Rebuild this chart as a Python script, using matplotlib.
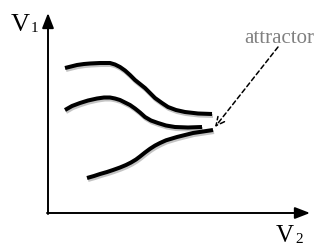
import matplotlib
matplotlib.use("Agg")
import matplotlib.pyplot as plt

# Trajectory data (pixel-like coordinate space, y grows downward)
curve1_x = [65, 71, 77, 84, 90, 100, 110, 115, 120, 125, 130, 135, 140, 145,
            150, 155, 162, 168, 176, 185, 198, 212]
curve1_y = [68, 66.5, 65, 64, 63.5, 63, 63, 64.5, 67, 70.5, 75, 80, 84, 88,
            93, 98, 103, 107, 110, 112, 113.5, 114]
curve2_x = [65, 72, 80, 88, 97, 104, 110, 115, 120, 125, 130, 135, 140, 145,
            151, 158, 166, 175, 188, 202]
curve2_y = [110, 106, 103, 100.5, 98.5, 97.5, 97.5, 98.5, 100, 102.5, 105,
            108.5, 112.5, 117, 120.5, 123, 125.5, 127, 127.5, 127]
curve3_x = [87, 94, 100, 107, 113, 120, 126, 131, 136, 140, 145, 150, 155,
            160, 166, 172, 177, 185, 193, 203, 213]
curve3_y = [178, 176, 174, 172, 170, 167.5, 165, 162.5, 159.5, 156.5, 152.5,
            148.8, 145.6, 143, 140.3, 138.5, 137, 135, 133, 131.5, 130]

curves = [(curve1_x, curve1_y), (curve2_x, curve2_y), (curve3_x, curve3_y)]

x_label = "V"
x_sub = "2"
y_label = "V"
y_sub = "1"
annot_text = "attractor"

W, H = 316, 247
fig = plt.figure(figsize=(W / 100, H / 100), dpi=100)
ax = fig.add_axes([0, 0, 1, 1])
ax.set_xlim(0, W)
ax.set_ylim(H, 0)
ax.axis("off")

serif = ["Liberation Serif", "DejaVu Serif"]

# axes with arrows
ax.annotate("", xy=(48, 13), xytext=(48, 214),
            arrowprops=dict(arrowstyle="-|>,head_length=0.9,head_width=0.35",
                            color="black", lw=1.4, shrinkA=0, shrinkB=0))
ax.annotate("", xy=(310, 213), xytext=(47, 213),
            arrowprops=dict(arrowstyle="-|>,head_length=0.9,head_width=0.35",
                            color="black", lw=1.4, shrinkA=0, shrinkB=0))

# curves with slight shadow
for cx, cy in curves:
    ax.plot([v + 1 for v in cx], [v + 2 for v in cy], color="#c4c4c4", lw=2.9,
            solid_capstyle="butt", solid_joinstyle="round", zorder=2)
    ax.plot(cx, cy, color="black", lw=2.9, solid_capstyle="butt",
            solid_joinstyle="round", zorder=3)

# axis labels
ax.text(11, 31, y_label, fontsize=19, family=serif, ha="left", va="baseline")
ax.text(31, 32, y_sub, fontsize=11, family=serif, ha="left", va="baseline")
ax.text(276, 242, x_label, fontsize=18, family=serif, ha="left", va="baseline")
ax.text(295, 243, x_sub, fontsize=11, family=serif, ha="left", va="baseline")

# attractor annotation
ax.text(279, 43, annot_text, fontsize=15, family=serif, color="#808080",
        ha="center", va="baseline")
ax.annotate("", xy=(215, 127), xytext=(278, 47),
            arrowprops=dict(arrowstyle="->,head_length=0.6,head_width=0.3",
                            color="black", lw=1.1, linestyle=(0, (3, 2)),
                            shrinkA=0, shrinkB=0))

fig.savefig("out.png", dpi=100)
